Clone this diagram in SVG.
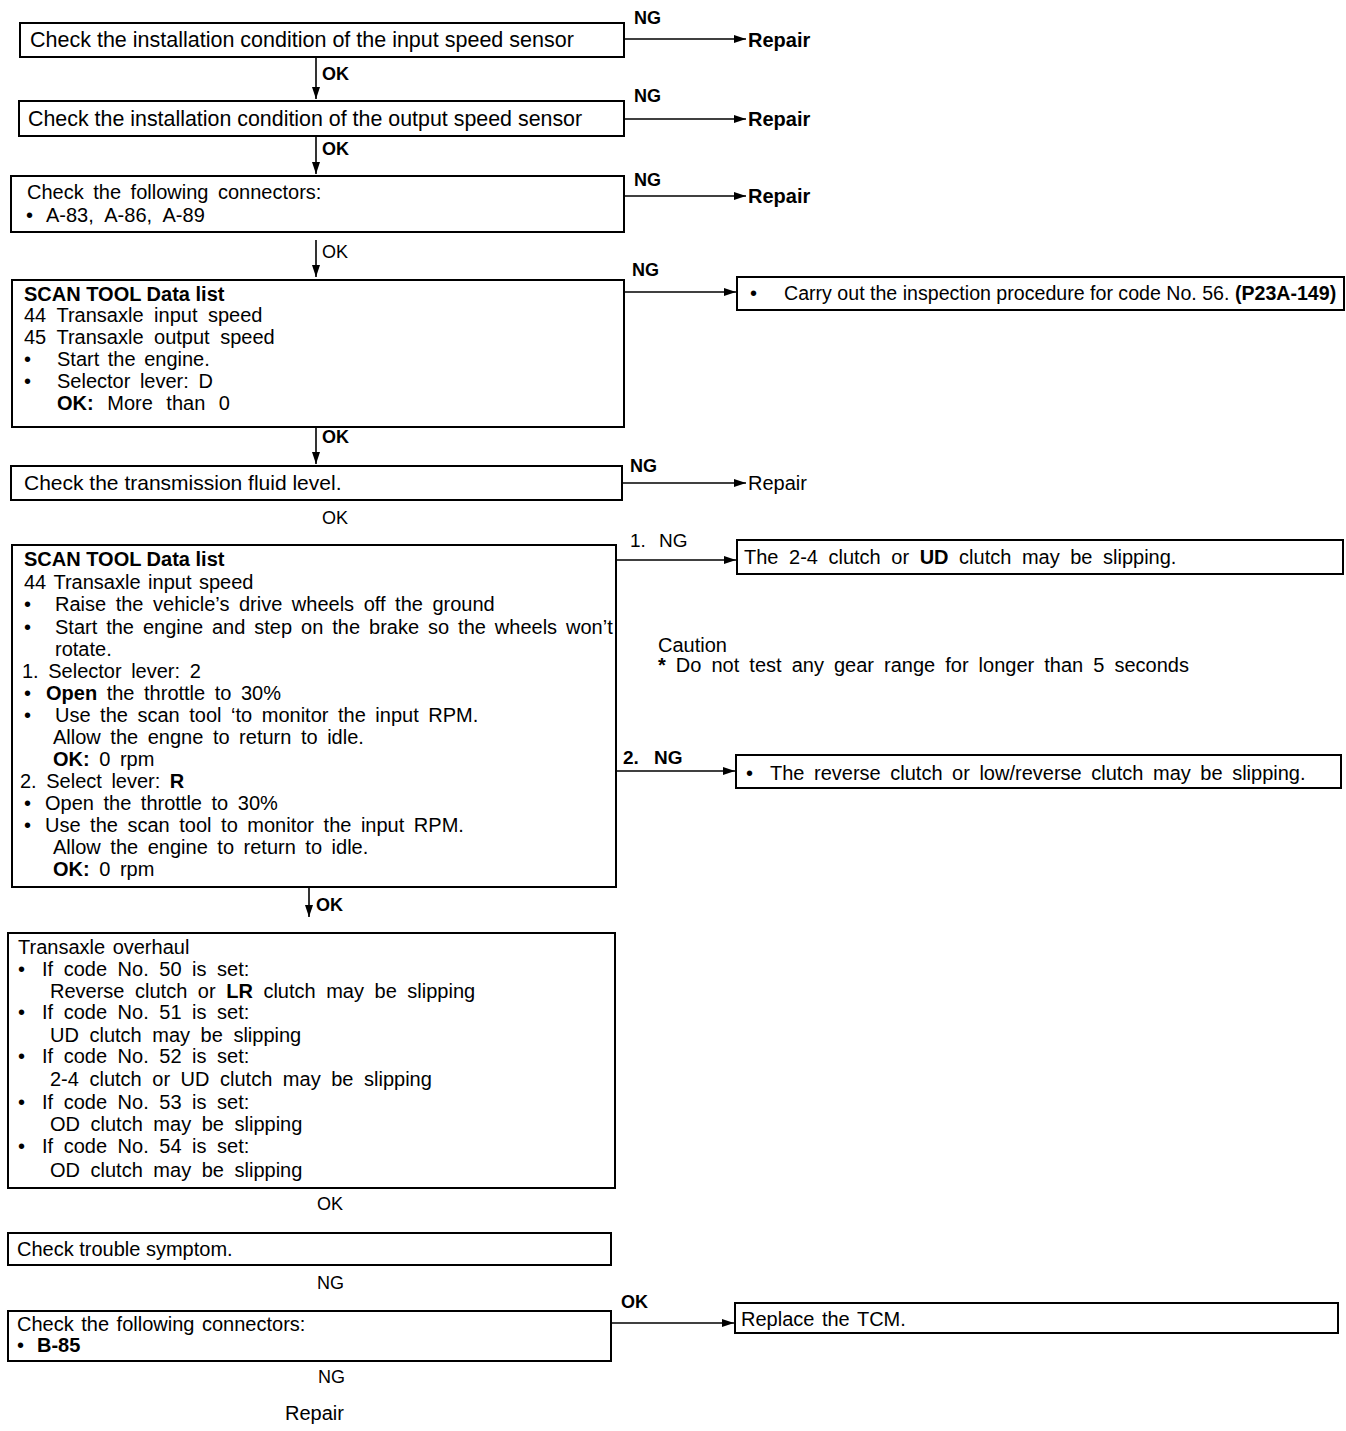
<svg xmlns="http://www.w3.org/2000/svg" width="1346" height="1431" viewBox="0 0 1346 1431">
  <style>
    text { font-family: "Liberation Sans", Arial, sans-serif; font-size: 20px; fill: #000; }
    .b { font-weight: bold; }
    .lbl { font-weight: bold; font-size: 18px; }
    .box { fill: #fff; stroke: #000; stroke-width: 2; }
    .con { fill: none; stroke: #000; stroke-width: 1.6; }
    .ws3 text { word-spacing: 3px; }
    .ws4 text { word-spacing: 4px; }
    .ws5 text { word-spacing: 5px; }
  </style>
  <defs>
    <marker id="ah" viewBox="0 0 12 8" refX="12" refY="4" markerWidth="12" markerHeight="8" markerUnits="userSpaceOnUse" orient="auto">
      <path d="M0,0 L12,4 L0,8 Z" fill="#000"/>
    </marker>
  </defs>
  <rect width="1346" height="1431" fill="#fff"/>

  <!-- connectors -->
  <g id="connectors">
    <line class="con" x1="624" y1="39" x2="746" y2="39" marker-end="url(#ah)"/>
    <line class="con" x1="316" y1="57" x2="316" y2="99" marker-end="url(#ah)"/>
    <line class="con" x1="624" y1="119" x2="746" y2="119" marker-end="url(#ah)"/>
    <line class="con" x1="316" y1="136" x2="316" y2="174" marker-end="url(#ah)"/>
    <line class="con" x1="624" y1="196" x2="746" y2="196" marker-end="url(#ah)"/>
    <line class="con" x1="316" y1="240" x2="316" y2="277" marker-end="url(#ah)"/>
    <line class="con" x1="624" y1="292" x2="736" y2="292" marker-end="url(#ah)"/>
    <line class="con" x1="316" y1="427" x2="316" y2="464" marker-end="url(#ah)"/>
    <line class="con" x1="622" y1="483" x2="746" y2="483" marker-end="url(#ah)"/>
    <line class="con" x1="616" y1="560" x2="736" y2="560" marker-end="url(#ah)"/>
    <line class="con" x1="616" y1="771" x2="735" y2="771" marker-end="url(#ah)"/>
    <line class="con" x1="309" y1="887" x2="309" y2="917" marker-end="url(#ah)"/>
    <line class="con" x1="611" y1="1323" x2="734" y2="1323" marker-end="url(#ah)"/>

    <text class="lbl" x="634" y="24">NG</text>
    <text class="lbl" x="322" y="80">OK</text>
    <text class="lbl" x="634" y="102">NG</text>
    <text class="lbl" x="322" y="155">OK</text>
    <text class="lbl" x="634" y="186">NG</text>
    <text x="322" y="258" style="font-size:18px">OK</text>
    <text class="lbl" x="632" y="276">NG</text>
    <text class="lbl" x="322" y="443">OK</text>
    <text class="lbl" x="630" y="472">NG</text>
    <text x="322" y="524" style="font-size:18px">OK</text>
    <text x="630" y="547" style="font-size:19px; word-spacing:8px">1. NG</text>
    <text class="lbl" x="623" y="764" style="font-size:19px; word-spacing:10px">2. NG</text>
    <text class="lbl" x="316" y="911">OK</text>
    <text x="317" y="1210" style="font-size:18px">OK</text>
    <text x="317" y="1289" style="font-size:18px">NG</text>
    <text class="lbl" x="621" y="1308">OK</text>
    <text x="318" y="1383" style="font-size:18px">NG</text>
  </g>

  <!-- step 1 -->
  <g id="n1">
    <rect class="box" x="20" y="23" width="604" height="34"/>
    <text x="30" y="47" style="font-size:21.5px">Check the installation condition of the input speed sensor</text>
  </g>
  <g id="r1"><text class="b" x="748" y="47">Repair</text></g>

  <g id="n2">
    <rect class="box" x="19" y="101" width="605" height="35"/>
    <text x="28" y="126" style="font-size:21.4px">Check the installation condition of the output speed sensor</text>
  </g>
  <g id="r2"><text class="b" x="748" y="126">Repair</text></g>

  <g id="n3">
    <rect class="box" x="11" y="176" width="613" height="56"/>
    <text x="27" y="199" style="word-spacing:4px">Check the following connectors:</text>
    <text x="26" y="222">•</text>
    <text x="46" y="222" style="word-spacing:6px">A-83, A-86, A-89</text>
  </g>
  <g id="r3"><text class="b" x="748" y="203">Repair</text></g>

  <g id="n4" class="ws3">
    <rect class="box" x="12" y="280" width="612" height="147"/>
    <text class="b" x="24" y="301" style="word-spacing:0">SCAN TOOL Data list</text>
    <text x="24" y="322" style="word-spacing:5px">44 Transaxle input speed</text>
    <text x="24" y="344" style="word-spacing:5px">45 Transaxle output speed</text>
    <text x="24" y="366">•</text>
    <text x="57" y="366">Start the engine.</text>
    <text x="24" y="388">•</text>
    <text x="57" y="388" style="word-spacing:4px">Selector lever: D</text>
    <text x="57" y="410" style="word-spacing:8px"><tspan class="b">OK:</tspan> More than 0</text>
  </g>
  <g id="r4">
    <rect class="box" x="737" y="277" width="607" height="33"/>
    <text x="750" y="300">•</text>
    <text x="784" y="300" style="font-size:19.6px">Carry out the inspection procedure for code No. 56. <tspan class="b">(P23A-149)</tspan></text>
  </g>

  <g id="n5">
    <rect class="box" x="11" y="466" width="611" height="34"/>
    <text x="24" y="490" style="font-size:21px">Check the transmission fluid level.</text>
  </g>
  <g id="r5"><text x="748" y="490">Repair</text></g>

  <g id="n6" class="ws4">
    <rect class="box" x="12" y="545" width="604" height="342"/>
    <text class="b" x="24" y="566" style="word-spacing:0">SCAN TOOL Data list</text>
    <text x="24" y="589" style="word-spacing:2px">44 Transaxle input speed</text>
    <text x="24" y="611">•</text>
    <text x="55" y="611">Raise the vehicle’s drive wheels off the ground</text>
    <text x="24" y="634">•</text>
    <text x="55" y="634" style="word-spacing:3.4px">Start the engine and step on the brake so the wheels won’t</text>
    <text x="55" y="656">rotate.</text>
    <text x="22" y="678">1. Selector lever: 2</text>
    <text x="24" y="700">•</text>
    <text x="46" y="700"><tspan class="b">Open</tspan> the throttle to 30%</text>
    <text x="24" y="722">•</text>
    <text x="55" y="722">Use the scan tool ‘to monitor the input RPM.</text>
    <text x="53" y="744">Allow the engne to return to idle.</text>
    <text x="53" y="766"><tspan class="b">OK:</tspan> 0 rpm</text>
    <text x="20" y="788">2. Select lever: <tspan class="b">R</tspan></text>
    <text x="24" y="810">•</text>
    <text x="45" y="810">Open the throttle to 30%</text>
    <text x="24" y="832">•</text>
    <text x="45" y="832">Use the scan tool to monitor the input RPM.</text>
    <text x="53" y="854">Allow the engine to return to idle.</text>
    <text x="53" y="876"><tspan class="b">OK:</tspan> 0 rpm</text>
  </g>

  <g id="r6a" class="ws4">
    <rect class="box" x="737" y="540" width="606" height="34"/>
    <text x="744" y="564" style="word-spacing:5px">The 2-4 clutch or <tspan class="b">UD</tspan> clutch may be slipping.</text>
  </g>

  <g id="caution" class="ws4">
    <text x="658" y="652">Caution</text>
    <text x="658" y="672" style="word-spacing:4.5px"><tspan class="b">*</tspan> Do not test any gear range for longer than 5 seconds</text>
  </g>

  <g id="r6b" class="ws4">
    <rect class="box" x="736" y="755" width="605" height="33"/>
    <text x="746" y="780">•</text>
    <text x="770" y="780">The reverse clutch or low/reverse clutch may be slipping.</text>
  </g>

  <g id="n7" class="ws5">
    <rect class="box" x="8" y="933" width="607" height="255"/>
    <text x="18" y="954" style="word-spacing:2px">Transaxle overhaul</text>
    <text x="18" y="976">•</text>
    <text x="42" y="976">If code No. 50 is set:</text>
    <text x="50" y="998">Reverse clutch or <tspan class="b">LR</tspan> clutch may be slipping</text>
    <text x="18" y="1019">•</text>
    <text x="42" y="1019">If code No. 51 is set:</text>
    <text x="50" y="1042">UD clutch may be slipping</text>
    <text x="18" y="1063">•</text>
    <text x="42" y="1063">If code No. 52 is set:</text>
    <text x="50" y="1086">2-4 clutch or UD clutch may be slipping</text>
    <text x="18" y="1109">•</text>
    <text x="42" y="1109">If code No. 53 is set:</text>
    <text x="50" y="1131">OD clutch may be slipping</text>
    <text x="18" y="1153">•</text>
    <text x="42" y="1153">If code No. 54 is set:</text>
    <text x="50" y="1177">OD clutch may be slipping</text>
  </g>

  <g id="n8">
    <rect class="box" x="8" y="1233" width="603" height="32"/>
    <text x="17" y="1256">Check trouble symptom.</text>
  </g>

  <g id="n9">
    <rect class="box" x="8" y="1311" width="603" height="50"/>
    <text x="17" y="1331" style="word-spacing:2px">Check the following connectors:</text>
    <text x="17" y="1352">•</text>
    <text x="37" y="1352" class="b">B-85</text>
  </g>

  <g id="r9">
    <rect class="box" x="735" y="1303" width="603" height="30"/>
    <text x="741" y="1326" style="word-spacing:2px">Replace the TCM.</text>
  </g>

  <g id="end"><text x="285" y="1420">Repair</text></g>
</svg>
